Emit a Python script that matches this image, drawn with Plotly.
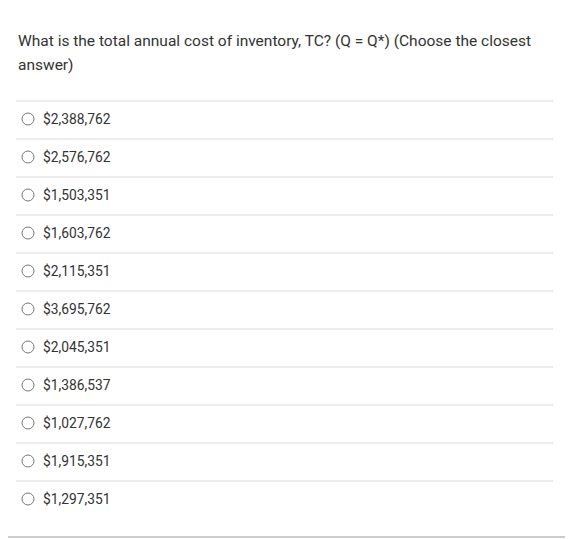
import plotly.graph_objects as go

question = ["What is the total annual cost of inventory, TC? (Q = Q*) (Choose the closest",
            "answer)"]
options = ["$2,388,762", "$2,576,762", "$1,503,351", "$1,603,762", "$2,115,351",
           "$3,695,762", "$2,045,351", "$1,386,537", "$1,027,762", "$1,915,351",
           "$1,297,351"]

W, H = 573, 539
OFF = 8  # the page body margin shifts the figure, so compensate

fig = go.Figure()

# question text
for i, line in enumerate(question):
    fig.add_annotation(x=16, y=41 + i * 24, text=line, showarrow=False,
                       xanchor='left', yanchor='middle',
                       font=dict(family='Roboto', size=15.5, color='#333333'))

row0, step = 119, 38
for i, opt in enumerate(options):
    y = row0 + i * step
    # separator above each row
    fig.add_shape(type='line', x0=16, x1=553, y0=y - 18, y1=y - 18,
                  line=dict(color='#d9d9d9', width=1))
    fig.add_shape(type='circle', x0=22, x1=34, y0=y - 6, y1=y + 6,
                  line=dict(color='#777777', width=1), fillcolor='white')
    fig.add_annotation(x=41, y=y, text=opt, showarrow=False,
                       xanchor='left', yanchor='middle',
                       font=dict(family='Roboto', size=13.8, color='#333333'))

fig.add_shape(type='line', x0=0, x1=W + OFF, y0=537, y1=537,
              line=dict(color='#999999', width=1))

fig.update_xaxes(range=[OFF, W + OFF], visible=False, fixedrange=True)
fig.update_yaxes(range=[H + OFF, OFF], visible=False, fixedrange=True)
fig.update_layout(width=W, height=H, margin=dict(l=0, r=0, t=0, b=0),
                  plot_bgcolor='white', paper_bgcolor='white', showlegend=False)

fig.write_html("out.html")
